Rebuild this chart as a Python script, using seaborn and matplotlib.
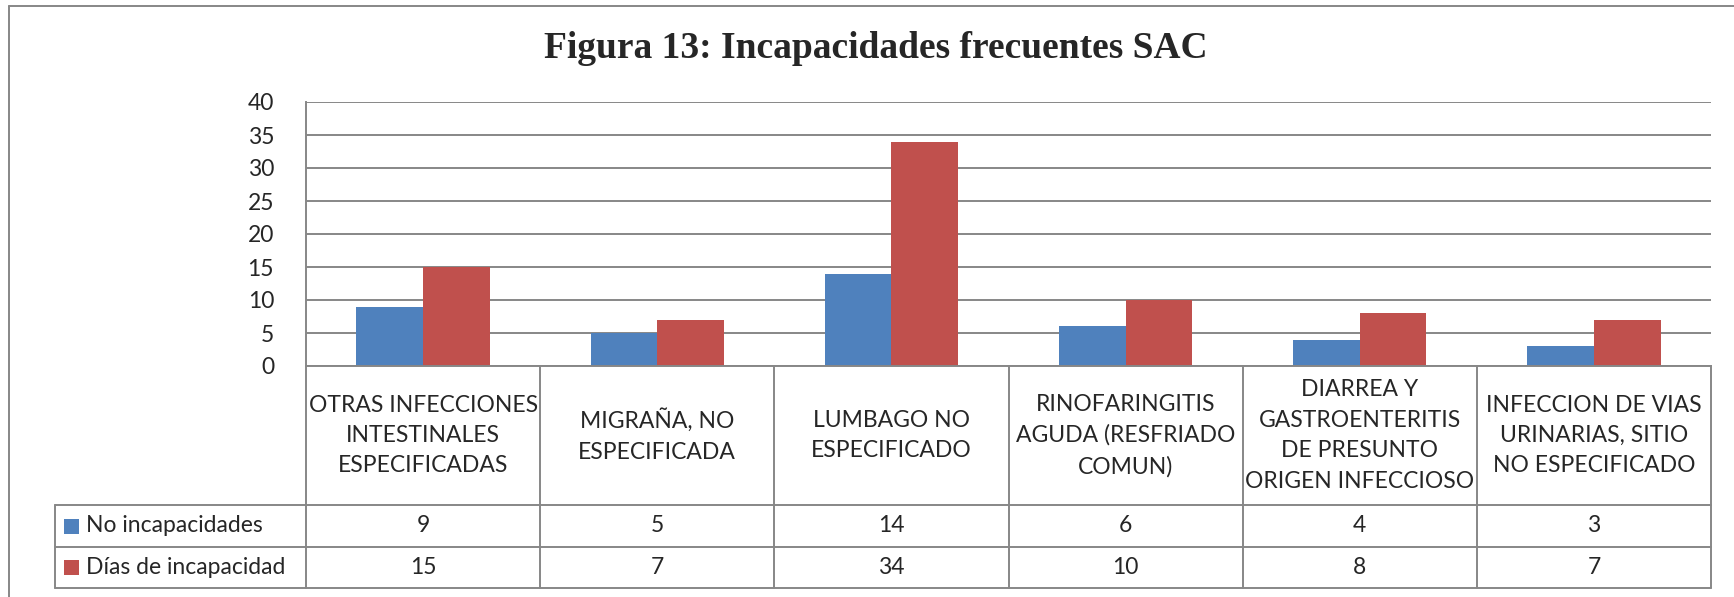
import pandas as pd
import matplotlib.pyplot as plt
import matplotlib.transforms as mtransforms
from matplotlib.lines import Line2D
from matplotlib.patches import Rectangle
import seaborn as sns

# Data
categories = [
    "OTRAS INFECCIONES\nINTESTINALES\nESPECIFICADAS",
    "MIGRAÑA, NO\nESPECIFICADA",
    "LUMBAGO NO\nESPECIFICADO",
    "RINOFARINGITIS\nAGUDA (RESFRIADO\nCOMUN)",
    "DIARREA Y\nGASTROENTERITIS\nDE PRESUNTO\nORIGEN INFECCIOSO",
    "INFECCION DE VIAS\nURINARIAS, SITIO\nNO ESPECIFICADO",
]
no_incapacidades = [9, 5, 14, 6, 4, 3]
dias_incapacidad = [15, 7, 34, 10, 8, 7]
series_names = ["No incapacidades", "Días de incapacidad"]
series_colors = ["#4F81BD", "#C0504D"]
y_ticks = [0, 5, 10, 15, 20, 25, 30, 35, 40]
title = "Figura 13: Incapacidades frecuentes SAC"

sns.set_style("white")
plt.rcParams["font.family"] = ["Lato", "DejaVu Sans"]

GREY = "#878787"
LW = 1.4
FS = 16.5

W, H = 1734, 597
fig = plt.figure(figsize=(W / 100, H / 100), dpi=100)


def fx(px):
    return px / W


def fy(py):
    return 1 - py / H


ax = fig.add_axes([fx(306), fy(366), fx(1711) - fx(306), fy(102) - fy(366)])

df = pd.DataFrame({
    "categoria": categories * 2,
    "serie": [series_names[0]] * len(categories) + [series_names[1]] * len(categories),
    "valor": no_incapacidades + dias_incapacidad,
})

sns.barplot(data=df, x="categoria", y="valor", hue="serie", hue_order=series_names,
            palette=series_colors, saturation=1, width=0.57, linewidth=0,
            legend=False, ax=ax)

ax.set_xlim(-0.5, len(categories) - 0.5)
ax.set_ylim(0, 40)
ax.set_yticks(y_ticks)
ax.set_yticklabels([str(t) for t in y_ticks])
ax.tick_params(axis="y", labelsize=FS, length=5, width=LW, color=GREY, pad=18, direction="out")
ax.tick_params(axis="x", length=0, labelbottom=False)
ax.set_xlabel("")
ax.set_ylabel("")
ax.yaxis.grid(True, color=GREY, linewidth=LW)
ax.set_axisbelow(True)
for s in ["top", "right"]:
    ax.spines[s].set_visible(False)
for s in ["left", "bottom"]:
    ax.spines[s].set_color(GREY)
    ax.spines[s].set_linewidth(LW)

# Data table below the plot
blend = mtransforms.blended_transform_factory(ax.transData, fig.transFigure)
top, head_bot, row1_bot, row2_bot = 366, 505, 547, 588
leg_left = 55
n = len(categories)

for i in range(n + 1):
    fig.add_artist(Line2D([i - 0.5, i - 0.5], [fy(top), fy(row2_bot)], transform=blend,
                          color=GREY, linewidth=LW))
for yy in [head_bot, row1_bot, row2_bot]:
    fig.add_artist(Line2D([-0.5, n - 0.5], [fy(yy), fy(yy)], transform=blend,
                          color=GREY, linewidth=LW))
    fig.add_artist(Line2D([fx(leg_left), fx(306)], [fy(yy), fy(yy)],
                          transform=fig.transFigure, color=GREY, linewidth=LW))
fig.add_artist(Line2D([fx(leg_left), fx(leg_left)], [fy(head_bot), fy(row2_bot)],
                      transform=fig.transFigure, color=GREY, linewidth=LW))

for i, cat in enumerate(categories):
    fig.text(i, fy((top + head_bot) / 2), cat, transform=blend, ha="center", va="center",
             multialignment="center", fontsize=FS, linespacing=1.55)

row_centers = [(head_bot + row1_bot) / 2, (row1_bot + row2_bot) / 2]
for name, color, vals, yc in zip(series_names, series_colors,
                                 [no_incapacidades, dias_incapacidad], row_centers):
    fig.add_artist(Rectangle((fx(64), fy(yc + 7.5)), fx(15), 15 / H,
                             transform=fig.transFigure, facecolor=color, edgecolor="none"))
    fig.text(fx(86), fy(yc), name, ha="left", va="center", fontsize=FS)
    for i, v in enumerate(vals):
        fig.text(i, fy(yc), str(v), transform=blend, ha="center", va="center", fontsize=FS)

# Title
fig.text(fx(876), fy(48), title, ha="center", va="center", fontsize=27,
         fontweight="bold", family=["Liberation Serif", "DejaVu Serif"])

# Outer chart frame (left and top edges visible)
fig.add_artist(Line2D([fx(9), fx(9)], [fy(6), 0], transform=fig.transFigure,
                      color=GREY, linewidth=LW))
fig.add_artist(Line2D([fx(9), 1], [fy(6), fy(6)], transform=fig.transFigure,
                      color=GREY, linewidth=LW))

fig.savefig("out.png", dpi=100)
